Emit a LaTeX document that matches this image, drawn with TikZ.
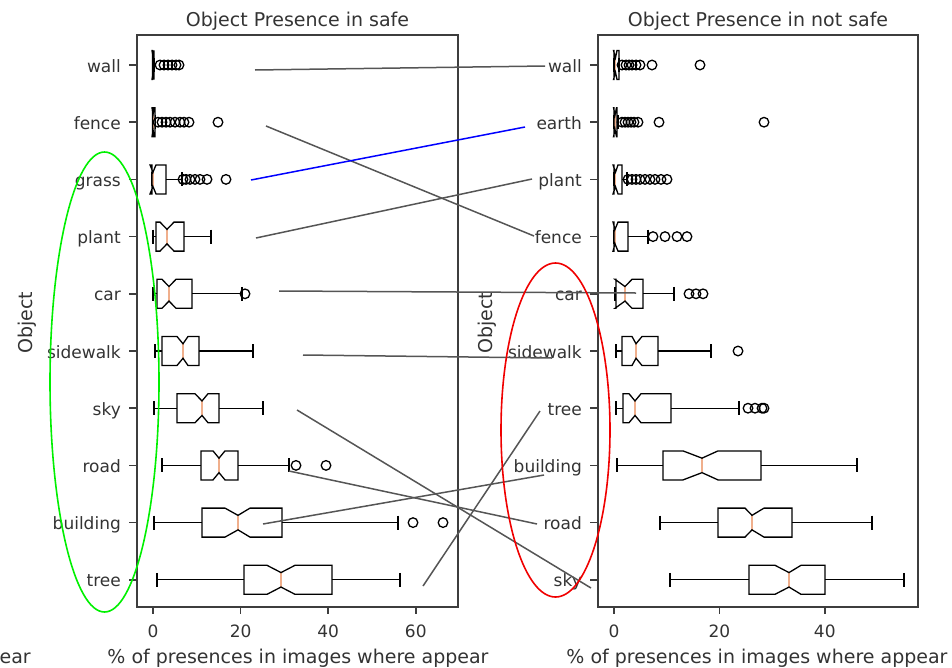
\documentclass[tikz,border=0pt]{standalone}
\usepackage{fontspec}
\setmainfont{DejaVu Sans}
\usetikzlibrary{positioning}
\definecolor{SpineGray}{RGB}{61, 61, 61}
\definecolor{TextGray}{RGB}{51, 51, 51}
\definecolor{LinkGray}{RGB}{85, 85, 85}
\definecolor{MedianOrange}{RGB}{240, 175, 140}
\definecolor{SafeGreen}{RGB}{0, 240, 0}
\definecolor{UnsafeRed}{RGB}{240, 0, 0}
\definecolor{GrassBlue}{RGB}{0, 0, 255}

\begin{document}
\begin{tikzpicture}[
    x=1pt, y=-1pt,
    font=\fontsize{17}{20}\selectfont,
    spine/.style={
        draw=SpineGray,            % frame and tick marks
        line width=1.6pt
    },
    boxline/.style={
        draw=black,                % notched boxes and whiskers
        line width=1.3pt
    },
    median/.style={
        draw=MedianOrange,
        line width=1.2pt
    },
    flier/.style={
        draw=black,
        line width=1.3pt
    },
    ticklabel/.style={
        text=TextGray,
        inner sep=0pt
    },
    biglabel/.style={
        ticklabel,
        font=\fontsize{19}{22}\selectfont
    },
    link/.style={
        draw=LinkGray,             % matching lines between the panels
        line width=1.5pt
    }
]
    \useasboundingbox (0,0) rectangle (952,667);

    % --- 1. Frames and titles ---
    \draw[spine] (137,35) rectangle (458,607);
    \draw[spine] (598,35) rectangle (918,607);

    \node[biglabel, anchor=base] (safeTitle) at (297.5,26) {Object Presence in safe};
    \node[biglabel, anchor=base] (unsafeTitle) at (758,26) {Object Presence in not safe};

    \node[biglabel, anchor=base] (safeXlabel) at (298,663) {\% of presences in images where appear};
    \node[biglabel, anchor=base] (unsafeXlabel) at (757,663) {\% of presences in images where appear};
    \node[biglabel, anchor=base east] (cutXlabel) at (31,663) {ear};

    \node[biglabel, rotate=90] (safeYlabel) at (27,323) {Object};
    \node[biglabel, rotate=90] (unsafeYlabel) at (487,323) {Object};

    % --- 2. Ticks ---
    \foreach \name [count=\i from 0] in {wall,fence,grass,plant,car,sidewalk,sky,road,building,tree} {
        \draw[spine] (137,{65+57.2*\i}) -- (129,{65+57.2*\i});
        \node[ticklabel, anchor=base east] (safe\name) at (121,{72+57.2*\i}) {\name};
    }
    \foreach \name [count=\i from 0] in {wall,earth,plant,fence,car,sidewalk,tree,building,road,sky} {
        \draw[spine] (598,{65+57.2*\i}) -- (590,{65+57.2*\i});
        \node[ticklabel, anchor=base east] (unsafe\name) at (582,{72+57.2*\i}) {\name};
    }
    \foreach \v in {0,20,40,60} {
        \draw[spine] ({153+4.38*\v},607) -- ({153+4.38*\v},614);
        \node[ticklabel, anchor=base] (safeTick\v) at ({153+4.38*\v},637) {\v};
    }
    \foreach \v in {0,20,40} {
        \draw[spine] ({614+5.27*\v},607) -- ({614+5.27*\v},614);
        \node[ticklabel, anchor=base] (unsafeTick\v) at ({614+5.27*\v},637) {\v};
    }

    % --- 3. Notched boxes ---
    % y / low whisker / q1 / notch low / median / notch high / q3 / high whisker
    \foreach \yy/\wlo/\qa/\nlo/\med/\nhi/\qb/\whi in {
        65/153/152.5/152/153/154/154/154,
        122.2/153/152.5/152/153/154/155/155.5,
        179.4/152/152/150/153/156/166/182,
        236.6/153/156/160/167/174/184/211,
        293.8/153/157/162/169/176/192/242,
        351/155/162/177/183/188/199/253,
        408.2/154/177/195/202/208/219/263,
        465.4/162/201/213/219/225/238/289,
        522.6/154/202/225/238/250/282/398,
        579.8/157/244/267/281/295/332/400,
        65/614/614/613.5/615.5/617/619/619,
        122.2/614/614/613.5/615/616.5/617/618,
        179.4/614/614/613/615.5/618/622/627,
        236.6/614/614/613/615/618/628/648,
        293.8/615/616/615/625/632/643/674,
        351/616/622/632/636/642/658/711,
        408.2/616/623/629/635/641/671/739,
        465.4/617/663/683/702/718/761/857,
        522.6/660/718/745/752/764/792/872,
        579.8/670/749/775/789/801/825/904} {
        \draw[boxline] (\wlo,\yy) -- (\qa,\yy) (\qb,\yy) -- (\whi,\yy);
        \draw[boxline] (\wlo,\yy-7) -- (\wlo,\yy+7) (\whi,\yy-7) -- (\whi,\yy+7);
        \draw[median] (\med,\yy-7) -- (\med,\yy+7);
        \draw[boxline] (\qa,\yy-14.5) -- (\nlo,\yy-14.5) -- (\med,\yy-7.25) -- (\nhi,\yy-14.5)
            -- (\qb,\yy-14.5) -- (\qb,\yy+14.5) -- (\nhi,\yy+14.5) -- (\med,\yy+7.25)
            -- (\nlo,\yy+14.5) -- (\qa,\yy+14.5) -- cycle;
    }

    % --- 4. Outliers ---
    \foreach \yy/\xlist in {
        65/{160,164,168,172,176,179},
        122.2/{158,162,166,170,175,180,184,189,218},
        179.4/{183,186,190,195,200,207,226},
        293.8/{245},
        465.4/{296,326},
        522.6/{413,443},
        65/{622,626,629,632,636,640,652,700},
        122.2/{622,625,628,631,634,638,659,764},
        179.4/{628,632,636,640,645,650,655,661,667},
        236.6/{653,665,677,687},
        293.8/{689,696,703},
        351/{738},
        408.2/{748,755,762,764}} {
        \foreach \xx in \xlist {
            \draw[flier] (\xx,\yy) circle[radius=4.8];
        }
    }

    % --- 5. Matching lines ---
    \coordinate (lwall) at (255,70);        \coordinate (rwall) at (545,66);
    \coordinate (lfence) at (266,126);      \coordinate (rfence) at (534,236);
    \coordinate (lgrass) at (251,180);      \coordinate (rearth) at (525,127);
    \coordinate (lplant) at (256,238);      \coordinate (rplant) at (532,179);
    \coordinate (lcar) at (279,291);        \coordinate (rcar) at (636,293);
    \coordinate (lsidewalk) at (303,355);   \coordinate (rsidewalk) at (552,358);
    \coordinate (lsky) at (297,410);        \coordinate (rsky) at (591,588);
    \coordinate (lroad) at (289,471);       \coordinate (rroad) at (537,524);
    \coordinate (lbuilding) at (263,524);   \coordinate (rbuilding) at (544,475);
    \coordinate (ltree) at (423,586);       \coordinate (rtree) at (540,411);

    \draw[link] (lwall) -- (rwall);
    \draw[link] (lfence) -- (rfence);
    \draw[link, draw=GrassBlue] (lgrass) -- (rearth);
    \draw[link] (lplant) -- (rplant);
    \draw[link] (lcar) -- (rcar);
    \draw[link] (lsidewalk) -- (rsidewalk);
    \draw[link] (lsky) -- (rsky);
    \draw[link] (lroad) -- (rroad);
    \draw[link] (lbuilding) -- (rbuilding);
    \draw[link] (ltree) -- (rtree);

    % --- 6. Highlight rings ---
    \draw[SafeGreen, line width=1.6pt] (104.5,382) ellipse [x radius=54.5, y radius=230];
    \draw[UnsafeRed, line width=1.6pt] (555.5,430) ellipse [x radius=54.5, y radius=167];

\end{tikzpicture}
\end{document}
